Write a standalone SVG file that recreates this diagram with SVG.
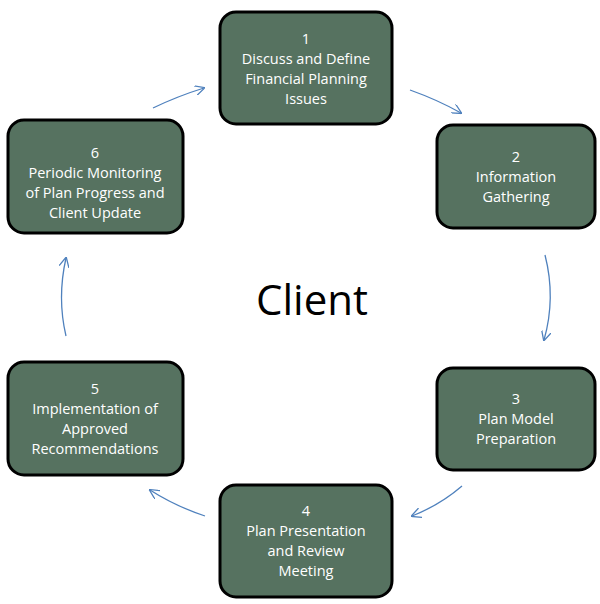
<svg xmlns="http://www.w3.org/2000/svg" width="600" height="604" viewBox="0 0 600 604">
<style>
.box{fill:#567260;stroke:#000;stroke-width:3}
.t{fill:#fff;font-family:"Open Sans","Liberation Sans",sans-serif;font-size:14.5px;text-anchor:middle}
.c{fill:none;stroke:#4f81bd;stroke-width:1.3;marker-end:url(#a)}
</style>
<defs><marker id="a" viewBox="0 0 10 10" refX="9" refY="5" markerWidth="10" markerHeight="10" markerUnits="userSpaceOnUse" orient="auto"><path d="M0,0 L10,5 L0,10" fill="none" stroke="#4f81bd" stroke-width="1.3"/></marker></defs>
<rect width="600" height="604" fill="#fff"/>
<g id="n1"><rect class="box" x="220" y="12" width="172" height="112" rx="16"/><text class="t" x="306" y="44">1</text><text class="t" x="306" y="64">Discuss and Define</text><text class="t" x="306" y="84">Financial Planning</text><text class="t" x="306" y="104">Issues</text></g>
<g id="n2"><rect class="box" x="437" y="125" width="158" height="103" rx="16"/><text class="t" x="516" y="162">2</text><text class="t" x="516" y="182">Information</text><text class="t" x="516" y="202">Gathering</text></g>
<g id="n3"><rect class="box" x="437" y="368" width="158" height="102" rx="16"/><text class="t" x="516" y="404">3</text><text class="t" x="516" y="424">Plan Model</text><text class="t" x="516" y="444">Preparation</text></g>
<g id="n4"><rect class="box" x="220" y="485" width="172" height="112" rx="16"/><text class="t" x="306" y="516">4</text><text class="t" x="306" y="536">Plan Presentation</text><text class="t" x="306" y="556">and Review</text><text class="t" x="306" y="576">Meeting</text></g>
<g id="n5"><rect class="box" x="8" y="362" width="175" height="113" rx="16"/><text class="t" x="95" y="394">5</text><text class="t" x="95" y="414">Implementation of</text><text class="t" x="95" y="434">Approved</text><text class="t" x="95" y="454">Recommendations</text></g>
<g id="n6"><rect class="box" x="8" y="120" width="175" height="113" rx="16"/><text class="t" x="95" y="158">6</text><text class="t" x="95" y="178">Periodic Monitoring</text><text class="t" x="95" y="198">of Plan Progress and</text><text class="t" x="95" y="218">Client Update</text></g>
<text x="312" y="315" font-family="'Open Sans','Liberation Sans',sans-serif" font-size="42" text-anchor="middle" fill="#000">Client</text>
<g id="connectors">
<path class="c" d="M410,90 Q438,100 461,113"/>
<path class="c" d="M545,255 Q556,298 544,340"/>
<path class="c" d="M462,486 Q440,505 412,516"/>
<path class="c" d="M205,516 Q175,506 150,490"/>
<path class="c" d="M66,336 Q57,298 66,258"/>
<path class="c" d="M153,108 Q178,96 204,88"/>
</g>
</svg>
